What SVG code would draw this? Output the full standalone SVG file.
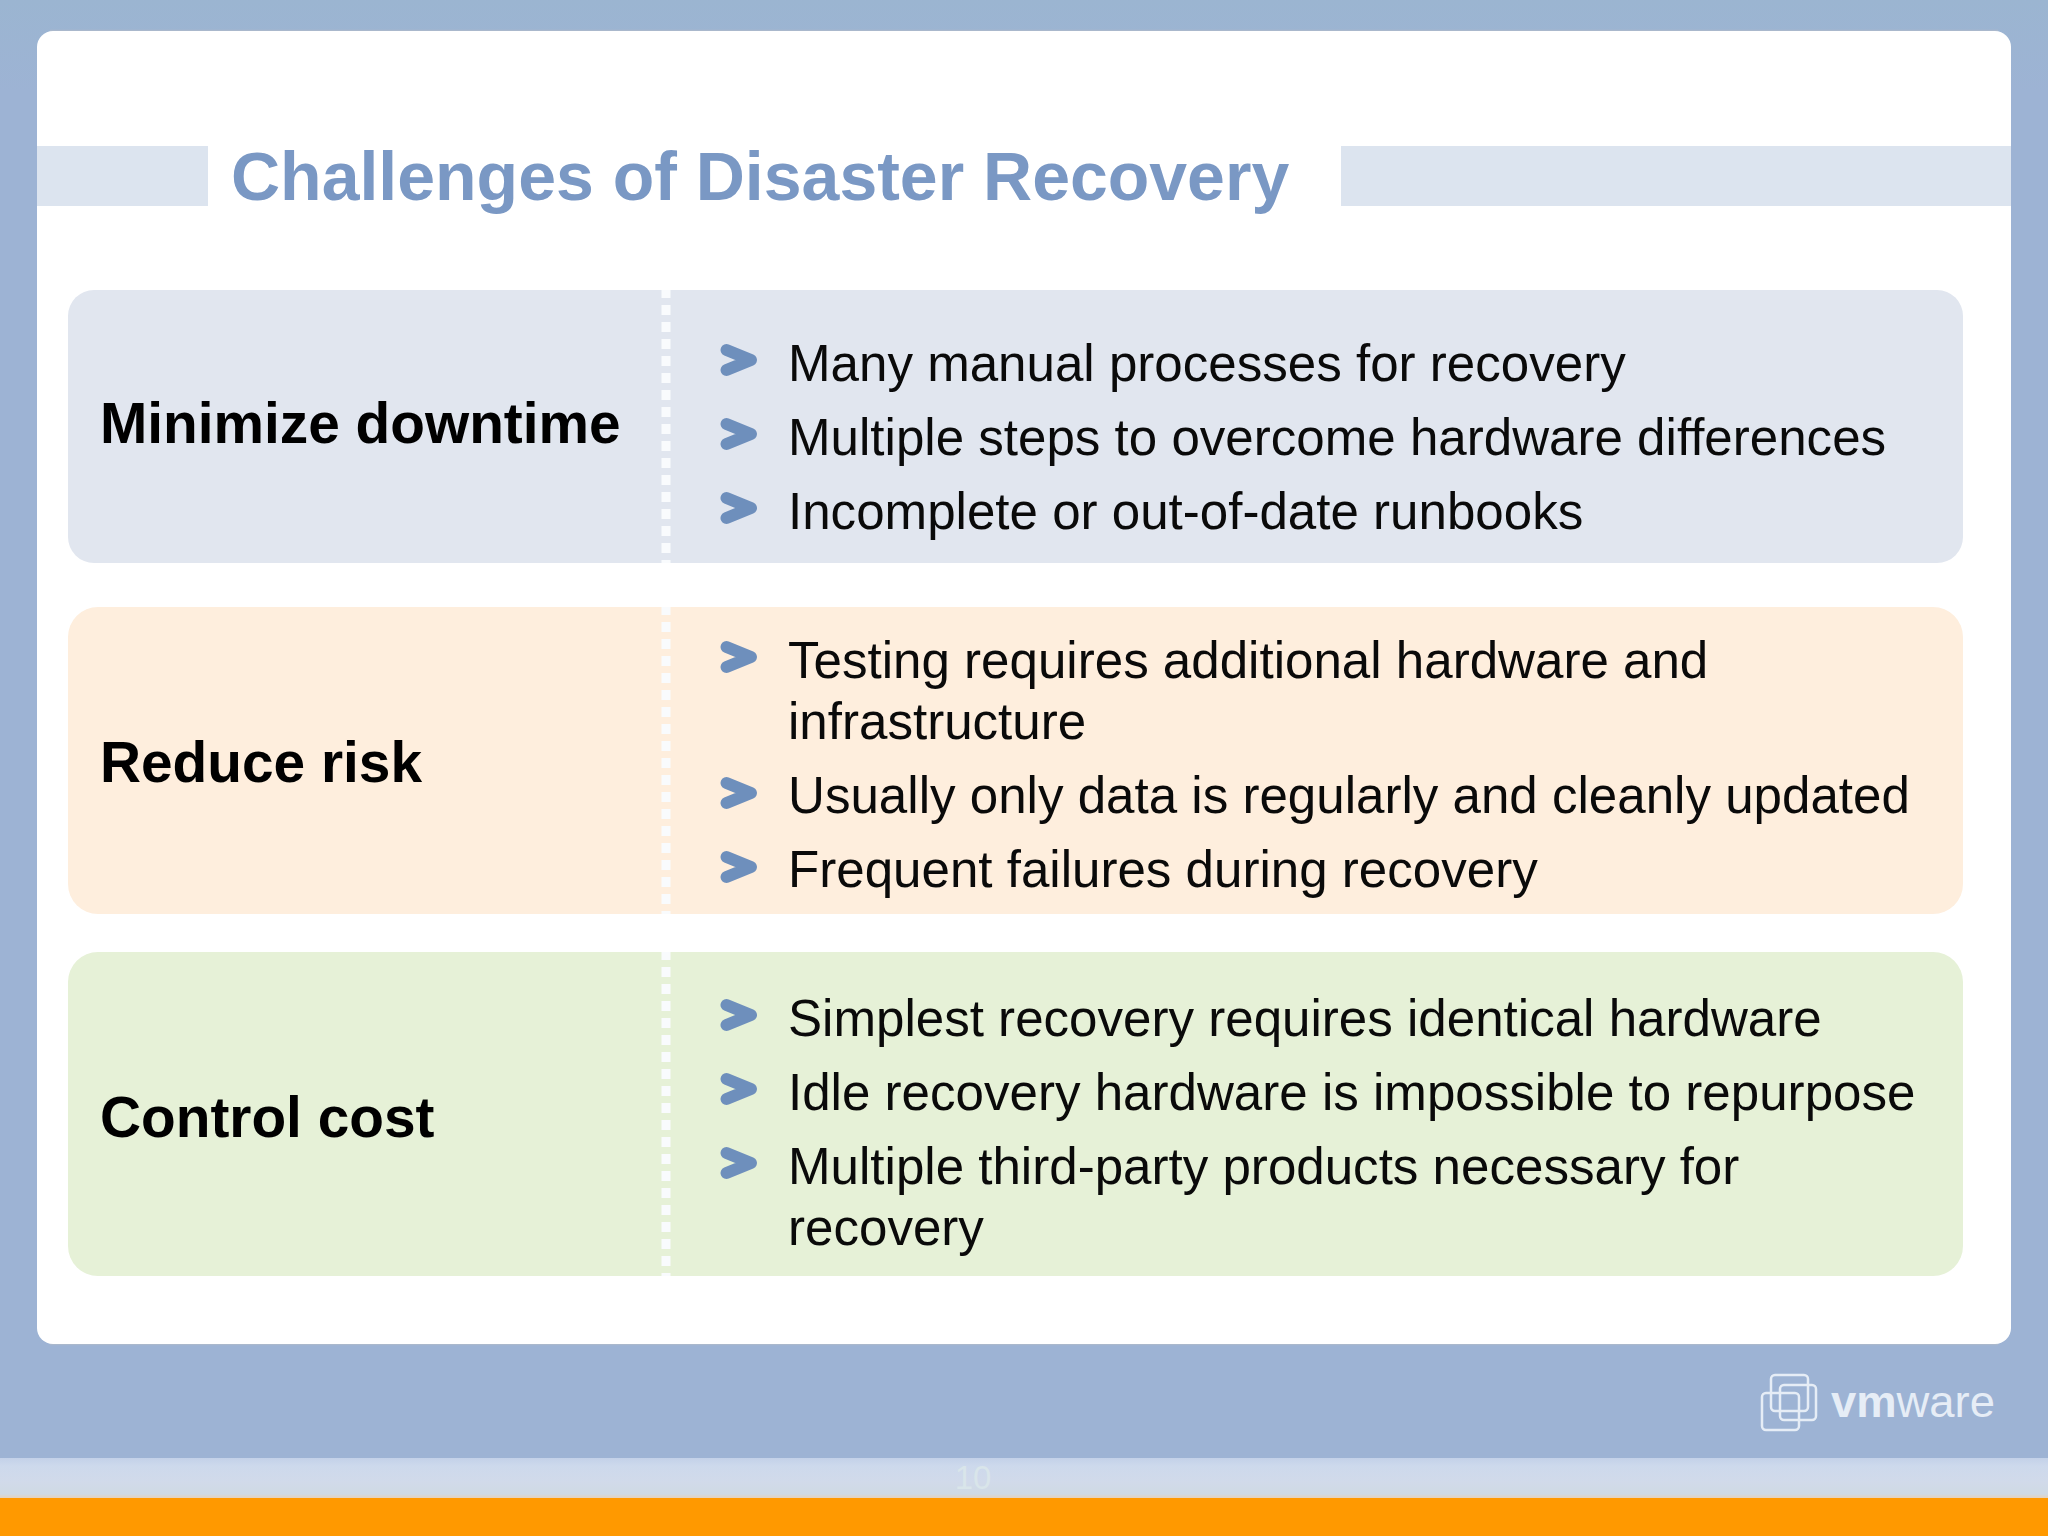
<svg xmlns="http://www.w3.org/2000/svg" width="2048" height="1536" viewBox="0 0 2048 1536">
<defs>
<linearGradient id="bg" x1="0" y1="0" x2="0" y2="1"><stop offset="0" stop-color="#9bb5d1"/><stop offset="0.06" stop-color="#9db3d4"/><stop offset="1" stop-color="#9db3d4"/></linearGradient>
<linearGradient id="foot" x1="0" y1="0" x2="0" y2="1"><stop offset="0" stop-color="#c3d1e8"/><stop offset="0.2" stop-color="#cdd9ec"/><stop offset="0.6" stop-color="#d1daea"/><stop offset="0.9" stop-color="#cfdae4"/><stop offset="1" stop-color="#e6d2bc"/></linearGradient>
<path id="chev" d="M-12.500 -10L12 0L-12.500 10" fill="none" stroke="#6e8fbc" stroke-width="12" stroke-linecap="round" stroke-linejoin="round"/>
</defs>
<style>
text{font-family:"Liberation Sans",Arial,sans-serif}
.h{font-size:56.800px;font-weight:700;fill:#000}
.b{font-size:51.100px;fill:#0a0a0a}
.d{stroke:#f9fbfd;stroke-width:9;stroke-dasharray:10 7;stroke-dashoffset:2;fill:none}
.r{fill:none;stroke:#e6edf6;stroke-width:2.500}
</style>
<rect width="2048" height="1536" fill="url(#bg)"/>
<rect y="1458" width="2048" height="40" fill="url(#foot)"/>
<rect y="1498" width="2048" height="38" fill="#ff9900"/>
<text x="973" y="1489" font-size="33" text-anchor="middle" fill="#d9e5ea">10</text>
<path d="M50 30.500H1998M50 1344.500H1998" stroke="#aab8cc" stroke-width="1.500" fill="none"/>
<rect x="37" y="31" width="1974" height="1313" rx="16" fill="#ffffff"/>
<g id="title">
<rect x="37" y="146" width="171" height="60" fill="#dce4ef"/>
<rect x="1341" y="146" width="670" height="60" fill="#dce4ef"/>
<text x="231" y="200" font-size="68" font-weight="700" fill="#7a98c4">Challenges of Disaster Recovery</text>
</g>
<g id="downtime">
<rect x="68" y="290" width="1895" height="273" rx="26" fill="#e1e6ef"/>
<path class="d" d="M666 290V563"/>
<text class="h" x="100" y="443">Minimize downtime</text>
<use href="#chev" x="739" y="360"/><use href="#chev" x="739" y="434"/><use href="#chev" x="739" y="508"/>
<text class="b" x="788" y="381">Many manual processes for recovery</text>
<text class="b" x="788" y="455">Multiple steps to overcome hardware differences</text>
<text class="b" x="788" y="529">Incomplete or out-of-date runbooks</text>
</g>
<g id="risk">
<rect x="68" y="607" width="1895" height="307" rx="30" fill="#feeedd"/>
<path class="d" d="M666 607V914"/>
<text class="h" x="100" y="782">Reduce risk</text>
<use href="#chev" x="739" y="657"/><use href="#chev" x="739" y="793"/><use href="#chev" x="739" y="867"/>
<text class="b" x="788" y="678">Testing requires additional hardware and</text>
<text class="b" x="788" y="739">infrastructure</text>
<text class="b" x="788" y="813">Usually only data is regularly and cleanly updated</text>
<text class="b" x="788" y="887">Frequent failures during recovery</text>
</g>
<g id="cost">
<rect x="68" y="952" width="1895" height="324" rx="30" fill="#e6f1d7"/>
<path class="d" d="M666 952V1276"/>
<text class="h" x="100" y="1137">Control cost</text>
<use href="#chev" x="739" y="1015"/><use href="#chev" x="739" y="1089"/><use href="#chev" x="739" y="1163"/>
<text class="b" x="788" y="1036">Simplest recovery requires identical hardware</text>
<text class="b" x="788" y="1110">Idle recovery hardware is impossible to repurpose</text>
<text class="b" x="788" y="1184">Multiple third-party products necessary for</text>
<text class="b" x="788" y="1245">recovery</text>
</g>
<g id="logo">
<rect class="r" x="1771" y="1375" width="37" height="36" rx="4"/>
<rect class="r" x="1780" y="1385" width="36" height="35" rx="4"/>
<rect class="r" x="1762" y="1393" width="37" height="37" rx="4"/>
<text x="1831" y="1417" font-size="44" fill="#e6edf6" textLength="164" lengthAdjust="spacingAndGlyphs"><tspan font-weight="700">vm</tspan>ware</text>
</g>
</svg>
